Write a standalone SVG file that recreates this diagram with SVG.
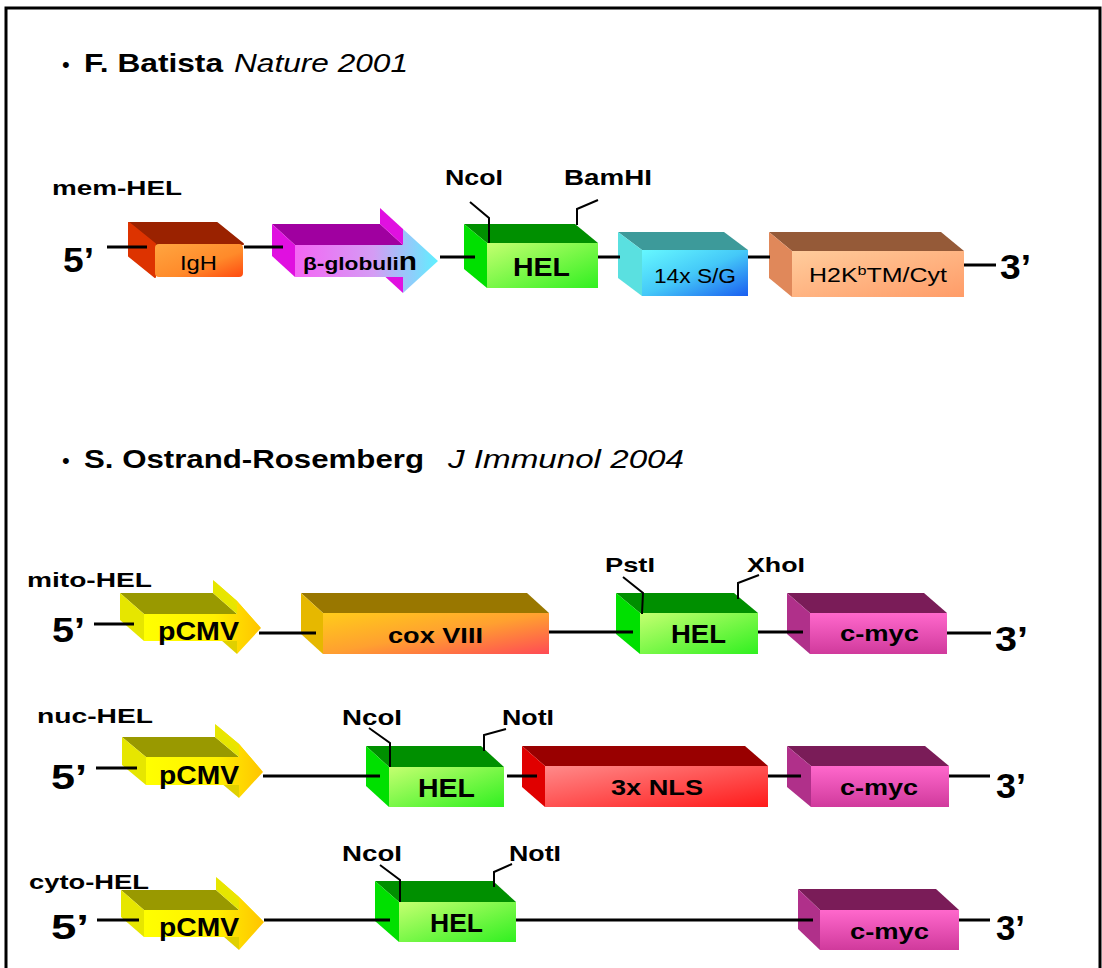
<svg xmlns="http://www.w3.org/2000/svg" width="1102" height="968" viewBox="0 0 1102 968">
<style>
.t{font-family:"Liberation Sans",Arial,sans-serif;font-weight:bold;fill:#000}
.n{font-family:"Liberation Sans",Arial,sans-serif;font-weight:normal;fill:#000}
.i{font-family:"Liberation Sans",Arial,sans-serif;font-style:italic;font-weight:normal;fill:#000}
.ln{stroke:#000;stroke-width:3;fill:none}
.ld{stroke:#000;stroke-width:2;fill:none}
</style>
<defs>
<linearGradient id="gHEL" x1="0" y1="0" x2="1" y2="1"><stop offset="0" stop-color="#c4ff70"/><stop offset="1" stop-color="#30f020"/></linearGradient>
<linearGradient id="gCMV" x1="0" y1="0" x2="1" y2="0"><stop offset="0" stop-color="#ffff00"/><stop offset="0.6" stop-color="#fff000"/><stop offset="1" stop-color="#ffc400"/></linearGradient>
<linearGradient id="gCOX" x1="0" y1="0" x2="1" y2="1"><stop offset="0" stop-color="#ffcc1a"/><stop offset="0.5" stop-color="#ffa030"/><stop offset="1" stop-color="#ff4a55"/></linearGradient>
<linearGradient id="gMYC" x1="0" y1="0" x2="0" y2="1"><stop offset="0" stop-color="#ff68cc"/><stop offset="1" stop-color="#d03a9c"/></linearGradient>
<linearGradient id="gNLS" x1="0" y1="0" x2="1" y2="1"><stop offset="0" stop-color="#ff8a8a"/><stop offset="1" stop-color="#ff1a1a"/></linearGradient>
<linearGradient id="gIGH" x1="0" y1="0" x2="1" y2="1"><stop offset="0" stop-color="#ffa540"/><stop offset="0.6" stop-color="#ff8a2a"/><stop offset="1" stop-color="#ff4a10"/></linearGradient>
<linearGradient id="gSG" x1="0" y1="0" x2="1" y2="1"><stop offset="0" stop-color="#66f8ff"/><stop offset="0.5" stop-color="#44c8f8"/><stop offset="1" stop-color="#1a5ef0"/></linearGradient>
<linearGradient id="gH2K" x1="0" y1="0" x2="1" y2="1"><stop offset="0" stop-color="#ffcc9c"/><stop offset="1" stop-color="#ff9c68"/></linearGradient>
<linearGradient id="gBG" x1="0" y1="0" x2="1" y2="0"><stop offset="0" stop-color="#f466f4"/><stop offset="0.55" stop-color="#d49cf4"/><stop offset="1" stop-color="#5ef0ff"/></linearGradient>
</defs>
<rect x="6" y="8" width="1094" height="990" fill="#fff" stroke="#000" stroke-width="3"/>

<g id="title1">
<text class="n" x="62" y="72" font-size="22">•</text>
<text class="t" x="84" y="72" font-size="25" textLength="139" lengthAdjust="spacingAndGlyphs">F. Batista</text>
<text class="i" x="234" y="72" font-size="25" textLength="174" lengthAdjust="spacingAndGlyphs">Nature 2001</text>
</g>
<g id="title2">
<text class="n" x="62" y="468" font-size="22">•</text>
<text class="t" x="84" y="468" font-size="25" textLength="340" lengthAdjust="spacingAndGlyphs">S. Ostrand-Rosemberg</text>
<text class="i" x="448" y="468" font-size="25" textLength="236" lengthAdjust="spacingAndGlyphs">J Immunol 2004</text>
</g>

<!-- Row 1: mem-HEL -->
<g id="mem-HEL-label"><text class="t" x="52" y="195" font-size="21" textLength="130" lengthAdjust="spacingAndGlyphs">mem-HEL</text></g>
<g id="r1-5"><text class="t" x="63" y="272" font-size="35" textLength="31" lengthAdjust="spacingAndGlyphs">5’</text></g>
<g id="r1-IgH">
<path d="M129,223 L217,223 L243,244 L155,244 Z" fill="#9a2200" stroke="#9a2200" stroke-linejoin="round" stroke-width="2"/>
<path d="M129,223 L155,244 L155,277 L129,256 Z" fill="#dd3300" stroke="#dd3300" stroke-linejoin="round" stroke-width="2"/>
<rect x="155" y="244" width="88" height="33" rx="4" fill="url(#gIGH)"/>
<text class="n" x="180" y="270" font-size="20" textLength="37" lengthAdjust="spacingAndGlyphs">IgH</text>
</g>
<g id="r1-bglobulin">
<path d="M272,224 L380,224 L403,245 L295,245 Z" fill="#a000a0"/>
<path d="M272,224 L295,245 L295,277 L272,256 Z" fill="#e010e0"/>
<path d="M380,208 L403,229 L403,245 L380,224 Z" fill="#e010e0"/>
<path d="M380,256 L403,277 L403,293 L380,272 Z" fill="#e010e0"/>
<path d="M295,245 L403,245 L403,229 L438,261 L403,293 L403,277 L295,277 Z" fill="url(#gBG)"/>
<text class="t" x="303" y="270" font-size="19" textLength="114" lengthAdjust="spacingAndGlyphs">β-globuli<tspan font-size="25">n</tspan></text>
</g>
<g id="r1-HEL">
<path d="M464,224 L575,224 L598,243 L487,243 Z" fill="#008f00"/>
<path d="M464,224 L487,243 L487,288 L464,269 Z" fill="#00e000"/>
<rect x="487" y="243" width="111" height="45" fill="url(#gHEL)"/>
<text class="t" x="513" y="276" font-size="26" textLength="57" lengthAdjust="spacingAndGlyphs">HEL</text>
</g>
<g id="r1-NcoI"><text class="t" x="445" y="185" font-size="22" textLength="58" lengthAdjust="spacingAndGlyphs">NcoI</text></g>
<g id="r1-BamHI"><text class="t" x="564" y="185" font-size="22" textLength="88" lengthAdjust="spacingAndGlyphs">BamHI</text></g>
<g id="r1-SG">
<path d="M618,232 L724,232 L748,250 L642,250 Z" fill="#3d9a9a"/>
<path d="M618,232 L642,250 L642,296 L618,278 Z" fill="#5ae0e0"/>
<rect x="642" y="250" width="106" height="46" fill="url(#gSG)"/>
<text class="n" x="654" y="283" font-size="20" textLength="82" lengthAdjust="spacingAndGlyphs">14x S/G</text>
</g>
<g id="r1-H2K">
<path d="M769,232 L941,232 L964,251 L792,251 Z" fill="#955a38"/>
<path d="M769,232 L792,251 L792,297 L769,278 Z" fill="#e0885a"/>
<rect x="792" y="251" width="172" height="46" fill="url(#gH2K)"/>
<text class="n" x="809" y="282" font-size="20" textLength="138" lengthAdjust="spacingAndGlyphs">H2K<tspan font-size="13" dy="-7">b</tspan><tspan dy="7">TM/Cyt</tspan></text>
</g>
<g id="r1-3"><text class="t" x="1000" y="279" font-size="35" textLength="31" lengthAdjust="spacingAndGlyphs">3’</text></g>

<!-- Row 2: mito-HEL -->
<g id="mito-HEL-label"><text class="t" x="27" y="587" font-size="21" textLength="125" lengthAdjust="spacingAndGlyphs">mito-HEL</text></g>
<g id="r2-5"><text class="t" x="52" y="642" font-size="35" textLength="33" lengthAdjust="spacingAndGlyphs">5’</text></g>
<g id="r2-pCMV">
<path d="M120,593 L213,593 L237,614 L144,614 Z" fill="#999900"/>
<path d="M120,593 L144,614 L144,641 L120,620 Z" fill="#e6e600"/>
<path d="M213,580 L237,601 L237,614 L213,593 Z" fill="#e6e600"/>
<path d="M213,580 L237,607 L261,628 L237,601 Z" fill="#ece400"/>
<path d="M213,620 L237,641 L237,654 L213,633 Z" fill="#e0d000"/>
<path d="M144,614 L237,614 L237,601 L261,628 L237,654 L237,641 L144,641 Z" fill="url(#gCMV)"/>
<text class="t" x="158" y="640" font-size="26" textLength="81" lengthAdjust="spacingAndGlyphs">pCMV</text>
</g>
<g id="r2-cox">
<path d="M301,593 L527,593 L549,613 L323,613 Z" fill="#997700"/>
<path d="M301,593 L323,613 L323,654 L301,634 Z" fill="#e6b800"/>
<rect x="323" y="613" width="226" height="41" fill="url(#gCOX)"/>
<text class="t" x="388" y="643" font-size="22" textLength="95" lengthAdjust="spacingAndGlyphs">cox VIII</text>
</g>
<g id="r2-HEL">
<path d="M616,593 L734,593 L758,613 L640,613 Z" fill="#008f00"/>
<path d="M616,593 L640,613 L640,654 L616,634 Z" fill="#00e000"/>
<rect x="640" y="613" width="118" height="41" fill="url(#gHEL)"/>
<text class="t" x="671" y="643" font-size="25" textLength="55" lengthAdjust="spacingAndGlyphs">HEL</text>
</g>
<g id="r2-PstI"><text class="t" x="605" y="572" font-size="21" textLength="50" lengthAdjust="spacingAndGlyphs">PstI</text></g>
<g id="r2-XhoI"><text class="t" x="747" y="572" font-size="21" textLength="58" lengthAdjust="spacingAndGlyphs">XhoI</text></g>
<g id="r2-myc">
<path d="M787,593 L924,593 L947,613 L810,613 Z" fill="#7a1c58"/>
<path d="M787,593 L810,613 L810,654 L787,634 Z" fill="#b0308a"/>
<rect x="810" y="613" width="137" height="41" fill="url(#gMYC)"/>
<text class="t" x="840" y="641" font-size="22" textLength="79" lengthAdjust="spacingAndGlyphs">c-myc</text>
</g>
<g id="r2-3"><text class="t" x="995" y="651" font-size="35" textLength="33" lengthAdjust="spacingAndGlyphs">3’</text></g>

<!-- Row 3: nuc-HEL -->
<g id="nuc-HEL-label"><text class="t" x="37" y="723" font-size="21" textLength="116" lengthAdjust="spacingAndGlyphs">nuc-HEL</text></g>
<g id="r3-5"><text class="t" x="51" y="789" font-size="35" textLength="36" lengthAdjust="spacingAndGlyphs">5’</text></g>
<g id="r3-pCMV">
<path d="M122,737 L215,737 L239,757 L146,757 Z" fill="#999900"/>
<path d="M122,737 L146,757 L146,785 L122,765 Z" fill="#e6e600"/>
<path d="M215,724 L239,744 L239,757 L215,737 Z" fill="#e6e600"/>
<path d="M215,724 L239,752 L263,772 L239,744 Z" fill="#ece400"/>
<path d="M215,765 L239,785 L239,798 L215,778 Z" fill="#e0d000"/>
<path d="M146,757 L239,757 L239,744 L263,772 L239,798 L239,785 L146,785 Z" fill="url(#gCMV)"/>
<text class="t" x="159" y="784" font-size="26" textLength="80" lengthAdjust="spacingAndGlyphs">pCMV</text>
</g>
<g id="r3-HEL">
<path d="M366,746 L481,746 L504,767 L389,767 Z" fill="#008f00"/>
<path d="M366,746 L389,767 L389,807 L366,786 Z" fill="#00e000"/>
<rect x="389" y="767" width="115" height="40" fill="url(#gHEL)"/>
<text class="t" x="418" y="797" font-size="25" textLength="57" lengthAdjust="spacingAndGlyphs">HEL</text>
</g>
<g id="r3-NcoI"><text class="t" x="342" y="725" font-size="22" textLength="60" lengthAdjust="spacingAndGlyphs">NcoI</text></g>
<g id="r3-NotI"><text class="t" x="502" y="725" font-size="22" textLength="52" lengthAdjust="spacingAndGlyphs">NotI</text></g>
<g id="r3-NLS">
<path d="M522,746 L745,746 L768,766 L545,766 Z" fill="#990000"/>
<path d="M522,746 L545,766 L545,807 L522,787 Z" fill="#e00000"/>
<rect x="545" y="766" width="223" height="41" fill="url(#gNLS)"/>
<text class="t" x="611" y="795" font-size="22" textLength="92" lengthAdjust="spacingAndGlyphs">3x NLS</text>
</g>
<g id="r3-myc">
<path d="M787,746 L925,746 L949,766 L811,766 Z" fill="#7a1c58"/>
<path d="M787,746 L811,766 L811,807 L787,787 Z" fill="#b0308a"/>
<rect x="811" y="766" width="138" height="41" fill="url(#gMYC)"/>
<text class="t" x="840" y="795" font-size="22" textLength="78" lengthAdjust="spacingAndGlyphs">c-myc</text>
</g>
<g id="r3-3"><text class="t" x="996" y="798" font-size="35" textLength="30" lengthAdjust="spacingAndGlyphs">3’</text></g>

<!-- Row 4: cyto-HEL -->
<g id="cyto-HEL-label"><text class="t" x="29" y="889" font-size="21" textLength="120" lengthAdjust="spacingAndGlyphs">cyto-HEL</text></g>
<g id="r4-5"><text class="t" x="51" y="939" font-size="35" textLength="38" lengthAdjust="spacingAndGlyphs">5’</text></g>
<g id="r4-pCMV">
<path d="M121,890 L216,890 L239,910 L144,910 Z" fill="#999900"/>
<path d="M121,890 L144,910 L144,937 L121,917 Z" fill="#e6e600"/>
<path d="M216,877 L239,897 L239,910 L216,890 Z" fill="#e6e600"/>
<path d="M216,877 L240,904 L264,922 L239,897 Z" fill="#ece400"/>
<path d="M216,917 L239,937 L239,950 L216,930 Z" fill="#e0d000"/>
<path d="M144,910 L239,910 L239,897 L264,922 L239,950 L239,937 L144,937 Z" fill="url(#gCMV)"/>
<text class="t" x="159" y="936" font-size="26" textLength="80" lengthAdjust="spacingAndGlyphs">pCMV</text>
</g>
<g id="r4-HEL">
<path d="M375,881 L493,881 L516,902 L399,902 Z" fill="#008f00"/>
<path d="M375,881 L399,902 L399,942 L375,921 Z" fill="#00e000"/>
<rect x="399" y="902" width="117" height="40" fill="url(#gHEL)"/>
<text class="t" x="430" y="932" font-size="25" textLength="53" lengthAdjust="spacingAndGlyphs">HEL</text>
</g>
<g id="r4-NcoI"><text class="t" x="342" y="861" font-size="22" textLength="60" lengthAdjust="spacingAndGlyphs">NcoI</text></g>
<g id="r4-NotI"><text class="t" x="509" y="861" font-size="22" textLength="52" lengthAdjust="spacingAndGlyphs">NotI</text></g>
<g id="r4-myc">
<path d="M798,889 L936,889 L959,910 L820,910 Z" fill="#7a1c58"/>
<path d="M798,889 L820,910 L820,950 L798,929 Z" fill="#b0308a"/>
<rect x="820" y="910" width="139" height="40" fill="url(#gMYC)"/>
<text class="t" x="850" y="939" font-size="22" textLength="79" lengthAdjust="spacingAndGlyphs">c-myc</text>
</g>
<g id="r4-3"><text class="t" x="996" y="940" font-size="35" textLength="29" lengthAdjust="spacingAndGlyphs">3’</text></g>

<g id="connectors">
<line class="ln" x1="107" y1="247" x2="147" y2="247"/>
<line class="ln" x1="244" y1="247" x2="283" y2="247"/>
<line class="ln" x1="440" y1="257" x2="475" y2="257"/>
<line class="ln" x1="598" y1="257" x2="620" y2="257"/>
<line class="ln" x1="748" y1="257" x2="770" y2="257"/>
<line class="ln" x1="964" y1="265" x2="996" y2="265"/>
<polyline class="ld" points="470,202 489,218 489,243"/>
<polyline class="ld" points="598,200 577,209 577,225"/>

<line class="ln" x1="94" y1="624" x2="134" y2="624"/>
<line class="ln" x1="259" y1="633" x2="316" y2="633"/>
<line class="ln" x1="549" y1="632" x2="633" y2="632"/>
<line class="ln" x1="758" y1="632" x2="803" y2="632"/>
<line class="ln" x1="947" y1="633" x2="991" y2="633"/>
<polyline class="ld" points="623,577 643,593 642,614"/>
<polyline class="ld" points="759,575 738,583 738,599"/>

<line class="ln" x1="96" y1="768" x2="137" y2="768"/>
<line class="ln" x1="263" y1="776" x2="380" y2="776"/>
<line class="ln" x1="507" y1="776" x2="537" y2="776"/>
<line class="ln" x1="768" y1="776" x2="801" y2="776"/>
<line class="ln" x1="949" y1="776" x2="990" y2="776"/>
<polyline class="ld" points="369,728 390,743 390,767"/>
<polyline class="ld" points="506,729 484,735 484,751"/>

<line class="ln" x1="97" y1="920" x2="139" y2="920"/>
<line class="ln" x1="264" y1="920" x2="390" y2="920"/>
<line class="ln" x1="516" y1="920" x2="813" y2="920"/>
<line class="ln" x1="959" y1="920" x2="990" y2="920"/>
<polyline class="ld" points="380,865 400,880 400,902"/>
<polyline class="ld" points="512,864 494,872 494,887"/>
</g>
</svg>
